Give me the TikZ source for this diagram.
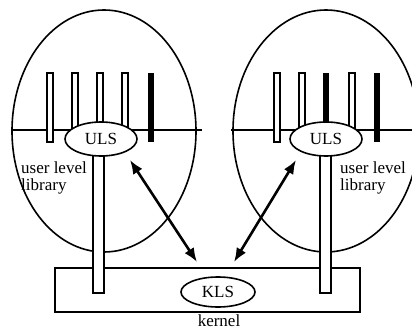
\documentclass[tikz,border=0pt]{standalone}
\usepackage{fontspec}
\setmainfont{Liberation Serif}
\usetikzlibrary{arrows.meta,shapes.geometric}
\begin{document}
\begin{tikzpicture}[x=1pt,y=-1pt,
  outline/.style={line width=1.6pt},
  thinbar/.style={draw,fill=white,line width=1.4pt},
  solidbar/.style={fill=black},
  lsnode/.style={draw,ellipse,fill=white,line width=1.6pt,minimum width=72pt,minimum height=34pt,inner sep=0pt,font=\fontsize{17}{17}\selectfont},
  label/.style={font=\fontsize{17}{17}\selectfont,align=left,inner sep=0pt,anchor=north west},
  link/.style={line width=2.6pt,{Latex[length=14pt,width=11pt]}-{Latex[length=14pt,width=11pt]}}]
\useasboundingbox (0,0) rectangle (412,331);
\begin{scope}
\clip (0,0) rectangle (412,331);
% two address spaces
\draw[outline] (104,131) ellipse [x radius=92, y radius=121];
\draw[outline] (326,131) ellipse [x radius=93, y radius=121];
% user/kernel boundary lines
\draw[outline] (12,130) -- (202,130);
\draw[outline] (231,130) -- (412,130);
\end{scope}
% kernel box
\node[draw,line width=1.6pt,minimum width=305pt,minimum height=44pt,inner sep=0pt] (kbox) at (207.5,290) {};
\node[font=\fontsize{17}{17}\selectfont,anchor=north,inner sep=0pt] (kname) at (219,315) {kernel};
% threads, left space
\draw[thinbar] (47,73) rectangle (53,142);
\draw[thinbar] (72,73) rectangle (78,142);
\draw[thinbar] (97,73) rectangle (103,142);
\draw[thinbar] (122,73) rectangle (128,142);
\fill[solidbar] (148,73) rectangle (154,142);
% threads, right space
\draw[thinbar] (274,73) rectangle (280,142);
\draw[thinbar] (299,73) rectangle (305,142);
\fill[solidbar] (323,73) rectangle (329,142);
\draw[thinbar] (349,73) rectangle (355,142);
\fill[solidbar] (374,73) rectangle (380,142);
% long threads into the kernel
\draw[thinbar] (93,150) rectangle (104,293);
\draw[thinbar] (320,150) rectangle (331,293);
% schedulers
\node[lsnode] (ulsL) at (101,139) {ULS};
\node[lsnode] (ulsR) at (326,139) {ULS};
\node[lsnode,minimum width=74pt,minimum height=30pt] (kls) at (218,292) {KLS};
% library labels
\node[label] (libL) at (21,162) {user level\\library};
\node[label] (libR) at (340,162) {user level\\library};
% upcalls / downcalls
\coordinate (aL) at (130,160);
\coordinate (bL) at (197,262);
\coordinate (aR) at (296,160);
\coordinate (bR) at (234,262);
\draw[link] (aL) -- (bL);
\draw[link] (aR) -- (bR);
\end{tikzpicture}
\end{document}
